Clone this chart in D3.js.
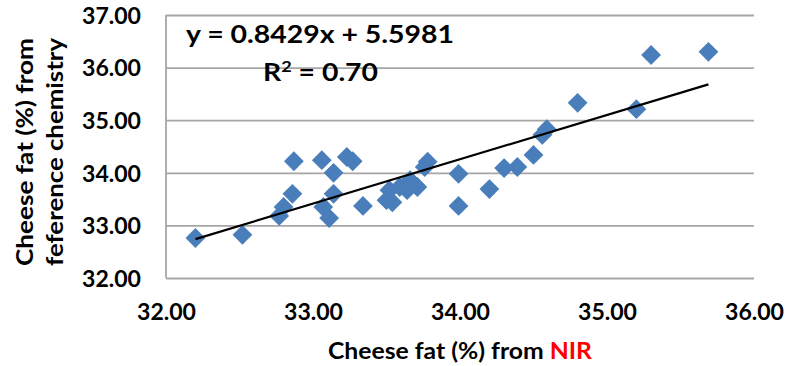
<!DOCTYPE html>
<html>
<head>
<meta charset="utf-8">
<script src="https://cdn.jsdelivr.net/npm/d3@7"></script>
<style>
  html, body { margin: 0; padding: 0; background: #ffffff; }
  svg { display: block; }
  text { font-family: Lato, "Open Sans", sans-serif; font-weight: 700; fill: #000; }
</style>
</head>
<body>
<script>
// ---- data ----
const nirFat = [32.20, 32.52, 32.77, 32.80, 32.86, 32.87, 33.06, 33.07, 33.11, 33.14,
                33.14, 33.23, 33.27, 33.34, 33.50, 33.54, 33.52, 33.59, 33.64, 33.71,
                33.66, 33.78, 33.76, 33.99, 33.99, 34.20, 34.30, 34.39, 34.50, 34.56,
                34.59, 34.80, 35.20, 35.30, 35.69];
const chemFat = [32.76, 32.82, 33.18, 33.35, 33.60, 34.22, 34.24, 33.35, 33.14, 34.00,
                 33.60, 34.30, 34.22, 33.37, 33.48, 33.44, 33.67, 33.73, 33.67, 33.73,
                 33.86, 34.21, 34.11, 33.98, 33.37, 33.69, 34.09, 34.11, 34.34, 34.72,
                 34.83, 35.33, 35.21, 36.24, 36.30];
const xTicks = [32, 33, 34, 35, 36];
const yTicks = [32, 33, 34, 35, 36, 37];
const trendSlope = 0.8429;
const trendIntercept = 5.5981;
const equationLabel = "y = 0.8429x + 5.5981";
const r2Value = "0.70";
const xTitleMain = "Cheese fat (%) from ";
const xTitleRed = "NIR";
const yTitleLines = ["Cheese fat (%) from", "feference chemistry"];

// ---- layout ----
const W = 786, H = 366;
const plot = { left: 166, right: 754, top: 15, bottom: 278 };

const svg = d3.select("body").append("svg").attr("width", W).attr("height", H);

const x = d3.scaleLinear().domain([32, 36]).range([plot.left, plot.right]);
const y = d3.scaleLinear().domain([32, 37]).range([plot.bottom, plot.top]);

// horizontal gridlines + y tick labels
const yAxis = d3.axisLeft(y).tickValues(yTicks).tickSize(-(plot.right - plot.left))
  .tickFormat(d3.format(".2f")).tickPadding(25);
const gy = svg.append("g").attr("transform", `translate(${plot.left},0)`).call(yAxis);
gy.select(".domain").remove();
gy.selectAll(".tick line").attr("stroke", "#a6a6a6").attr("stroke-width", 1.8);
gy.selectAll(".tick text").attr("font-size", 23).attr("font-family", "Lato, sans-serif")
  .attr("font-weight", 700).attr("fill", "#000").attr("dy", "0.36em")
  .attr("textLength", 59).attr("lengthAdjust", "spacingAndGlyphs");

// left border of plot area
svg.append("line").attr("x1", plot.left).attr("x2", plot.left)
  .attr("y1", plot.top).attr("y2", plot.bottom)
  .attr("stroke", "#a6a6a6").attr("stroke-width", 1.8);

// x axis labels
const xAxis = d3.axisBottom(x).tickValues(xTicks).tickSize(0)
  .tickFormat(d3.format(".2f")).tickPadding(26);
const gx = svg.append("g").attr("transform", `translate(0,${plot.bottom})`).call(xAxis);
gx.select(".domain").remove();
gx.selectAll(".tick text").attr("font-size", 23).attr("font-family", "Lato, sans-serif")
  .attr("font-weight", 700).attr("fill", "#000")
  .attr("textLength", 59).attr("lengthAdjust", "spacingAndGlyphs");

// points
const diamond = d3.symbol().type(d3.symbolSquare).size(196);
svg.append("g").selectAll("path").data(nirFat.map((v, i) => [v, chemFat[i]]))
  .join("path")
  .attr("d", diamond)
  .attr("transform", d => `translate(${x(d[0])},${y(d[1])}) rotate(45)`)
  .attr("fill", "#4a7ebb");

// trendline
const xMin = d3.min(nirFat), xMax = d3.max(nirFat);
svg.append("line")
  .attr("x1", x(xMin)).attr("y1", y(trendSlope * xMin + trendIntercept))
  .attr("x2", x(xMax)).attr("y2", y(trendSlope * xMax + trendIntercept))
  .attr("stroke", "#000").attr("stroke-width", 2.2);

// equation labels
svg.append("text").attr("x", 186).attr("y", 43).attr("font-size", 25.5)
  .attr("textLength", 268).attr("lengthAdjust", "spacingAndGlyphs").text(equationLabel);
const r2 = svg.append("text").attr("x", 263).attr("y", 81).attr("font-size", 25)
  .attr("textLength", 115).attr("lengthAdjust", "spacingAndGlyphs");
r2.append("tspan").text("R");
r2.append("tspan").attr("font-size", 16).attr("dy", -9).text("2");
r2.append("tspan").attr("dy", 9).text(" = " + r2Value);

// x title
const xt = svg.append("text").attr("x", (plot.left + plot.right) / 2).attr("y", 359)
  .attr("text-anchor", "middle").attr("font-size", 23)
  .attr("textLength", 264).attr("lengthAdjust", "spacingAndGlyphs");
xt.append("tspan").text(xTitleMain);
xt.append("tspan").attr("fill", "#ff0000").style("fill", "#ff0000").text(xTitleRed);

// y title (two lines, rotated)
const yt = svg.append("g").attr("transform", `translate(33,152) rotate(-90)`);
yTitleLines.forEach((line, i) => {
  yt.append("text").attr("x", 0).attr("y", i * 30)
    .attr("text-anchor", "middle").attr("font-size", 23)
    .attr("textLength", 228).attr("lengthAdjust", "spacingAndGlyphs")
    .text(line);
});
</script>
</body>
</html>
